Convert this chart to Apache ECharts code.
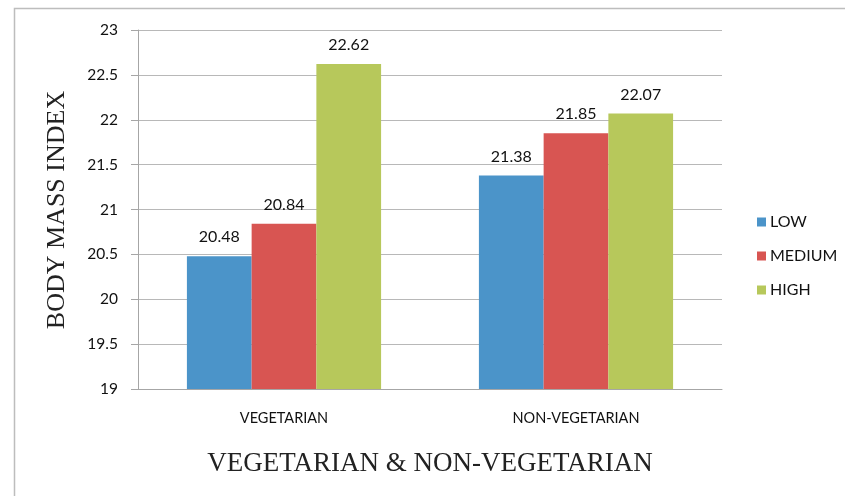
<!DOCTYPE html>
<html>
<head>
<meta charset="utf-8">
<script src="https://cdn.jsdelivr.net/npm/echarts@6/dist/echarts.min.js"></script>
<style>
  html, body { margin: 0; padding: 0; background: #fff; }
  #chart { width: 845px; height: 496px; }
</style>
</head>
<body>
<div id="chart"></div>
<script>
const categories = ["VEGETARIAN", "NON-VEGETARIAN"];
const lowValues = [20.48, 21.38];
const mediumValues = [20.84, 21.85];
const highValues = [22.62, 22.07];
const yTitle = "BODY MASS INDEX";
const xTitle = "VEGETARIAN & NON-VEGETARIAN";

const labelStyle = {
  show: true,
  position: "top",
  distance: 11,
  fontFamily: "Lato",
  fontSize: 16,
  color: "#111",
  formatter: (p) => p.value.toFixed(2),
};

const chart = echarts.init(document.getElementById("chart"));
chart.setOption({
  animation: false,
  graphic: [
    {
      type: "rect",
      shape: { x: 14.5, y: 8.5, width: 900, height: 600 },
      style: { fill: "none", stroke: "#bdbdbd", lineWidth: 1.5 },
    },
    // y axis title, rotated
    {
      type: "text",
      x: 57,
      y: 210,
      rotation: Math.PI / 2,
      style: {
        text: yTitle,
        fontFamily: "Liberation Serif",
        fontSize: 26,
        fill: "#222",
        align: "center",
        verticalAlign: "middle",
      },
    },
  ],
  grid: { left: 138, right: 123, top: 30, bottom: 107 },
  legend: {
    orient: "vertical",
    left: 752,
    top: 209,
    itemWidth: 9,
    itemHeight: 9,
    itemGap: 18,
    icon: "rect",
    textStyle: { fontFamily: "Lato", fontSize: 16, color: "#111", padding: [0, 0, 0, -1] },
    data: ["LOW", "MEDIUM", "HIGH"],
  },
  xAxis: {
    type: "category",
    data: categories,
    name: xTitle,
    nameLocation: "middle",
    nameGap: 61,
    nameTextStyle: { fontFamily: "Liberation Serif", fontSize: 27, color: "#222" },
    axisLine: { lineStyle: { color: "#a6a6a6", width: 1 } },
    axisTick: { show: false },
    axisLabel: { fontFamily: "Lato", fontSize: 14.5, color: "#111", margin: 22 },
  },
  yAxis: {
    type: "value",
    min: 19,
    max: 23,
    interval: 0.5,
    axisLine: { show: true, lineStyle: { color: "#a6a6a6", width: 1 } },
    axisTick: { show: true, length: 7, lineStyle: { color: "#a6a6a6" } },
    axisLabel: { fontFamily: "Lato", fontSize: 15.5, color: "#111", margin: 20 },
    splitLine: { lineStyle: { color: "#b8b8b8", width: 1 } },
  },
  series: [
    {
      name: "LOW",
      type: "bar",
      data: lowValues,
      itemStyle: { color: "#4b94c9" },
      barGap: "0%",
      barCategoryGap: "33.5%",
      label: labelStyle,
    },
    {
      name: "MEDIUM",
      type: "bar",
      data: mediumValues,
      itemStyle: { color: "#d85552" },
      label: labelStyle,
    },
    {
      name: "HIGH",
      type: "bar",
      data: highValues,
      itemStyle: { color: "#b7c85b" },
      label: labelStyle,
    },
  ],
});
</script>
</body>
</html>
